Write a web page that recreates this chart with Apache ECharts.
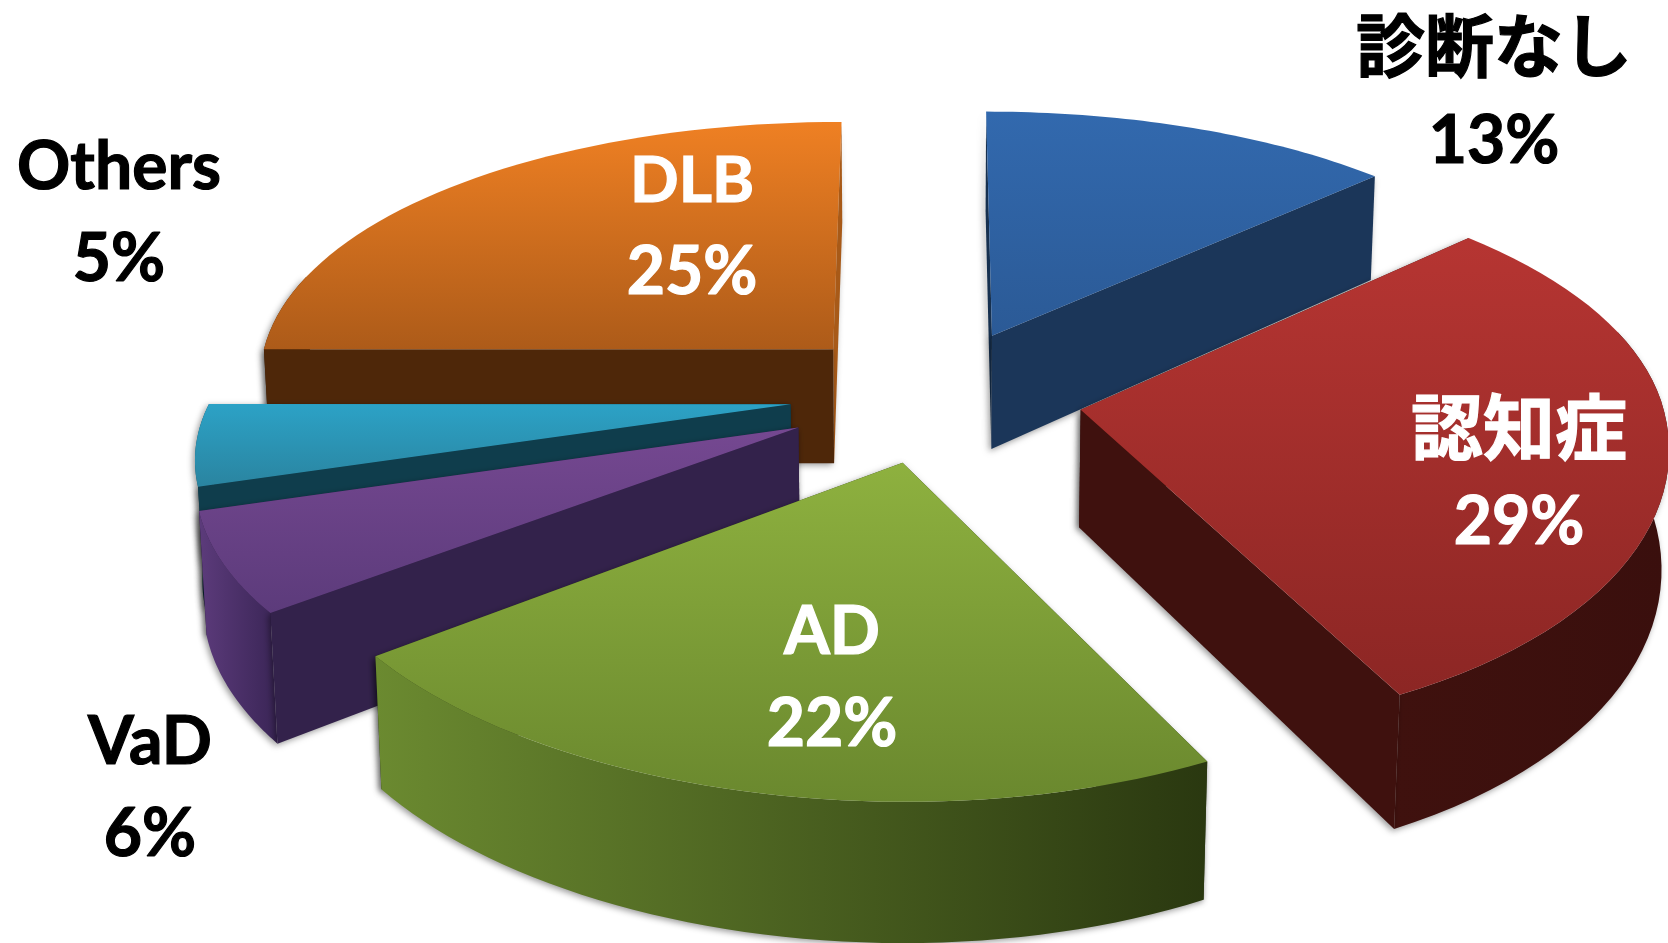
<!DOCTYPE html>
<html>
<head>
<meta charset="utf-8">
<style>
  html, body { margin: 0; padding: 0; background: #fff; }
  #chart { width: 1668px; height: 943px; }
</style>
<script src="https://cdn.jsdelivr.net/npm/echarts@6/dist/echarts.min.js"></script>
</head>
<body>
<div id="chart"></div>
<script>
// data
var categories = ['診断なし', '認知症', 'AD', 'VaD', 'Others', 'DLB'];
var percentValues = [13, 29, 22, 6, 5, 25];

// look of each slice, same order as categories
var topColors = [
  ['#3269ae', '#2b5a96'], ['#b63532', '#8c2624'], ['#8eb13f', '#6a882e'],
  ['#754891', '#5c3b7b'], ['#2ca2c6', '#2a84a0'], ['#ef8023', '#ad5b19']
];
var wallColors = ['#1b3659', '#3f110e', '#33421a', '#33224b', '#0f3d4c', '#4e2709'];
var curveColors = [
  ['#1b3659', '#1b3659'], ['#3f110e', '#3a0f0d'], ['#6b8a30', '#2a3810'],
  ['#5c3b7b', '#3a2556'], ['#15536a', '#0f3d4c'], ['#4e2709', '#4e2709']
];
var backColors = ['#16304f', '#3f110e', '#33421a', '#33224b', '#0f3d4c', '#a85a18'];
// how far each slice is pulled out of the pie, in radii
var offsetU = [0.1165, 0.267, -0.029, -0.212, -0.232, -0.163];
var offsetV = [0.24, -0.039, -0.227, -0.104, -0.0195, 0.188];
var paintOrder = [2, 5, 6, 4, 3, 1];
var labelColors = ['#000', '#fff', '#fff', '#000', '#000', '#fff'];
var labelNameSizes = [69, 72, 66, 66, 66, 64];
var labelX = [1494, 1519, 832, 150, 119, 692];
var labelY = [96, 477, 679, 789, 214, 227];

// projection of the pie plane, the near half is bent a little to fit the picture
var CX = 926, CY = 399, RX = 580, RY = 272, DEPTH = 117;
var PERSP = 0.14, PERSP_X_FAR = 0.1, SHRINK = 0.01, SHEAR = 26.6, WARP = -15;

function project(u, v, h) {
  var wy = 1 + PERSP * v;
  var wx = 1 + (v > 0 ? PERSP_X_FAR : PERSP) * v + SHRINK * h;
  var near = Math.min(v, 0);
  return [CX + RX * u / wx + SHEAR * near, CY - RY * v / wy + DEPTH * h / wy + WARP * u * near];
}

function vGrad(stops) {
  return { type: 'linear', x: 0, y: 0, x2: 0, y2: 1, colorStops: [{ offset: 0, color: stops[0] }, { offset: 1, color: stops[1] }] };
}
function hGrad(stops) {
  return { type: 'linear', x: 0, y: 0, x2: 1, y2: 0, colorStops: [{ offset: 0, color: stops[0] }, { offset: 1, color: stops[1] }] };
}

var total = percentValues.reduce(function (a, b) { return a + b; }, 0);
var starts = [];
percentValues.reduce(function (acc, v, i) { starts[i] = acc; return acc + v; }, 0);

function poly(points, fill, z2, shadow) {
  var style = { fill: fill };
  if (shadow) {
    style.shadowColor = 'rgba(0,0,0,0.4)';
    style.shadowBlur = 6;
    style.shadowOffsetX = -2;
    style.shadowOffsetY = 2;
  }
  return { type: 'polygon', shape: { points: points }, style: style, z2: z2, silent: true };
}

function renderSlice(params, api) {
  var i = params.dataIndex;
  var a0 = starts[i] / total * Math.PI * 2;
  var a1 = a0 + api.value(0) / total * Math.PI * 2;
  var ou = offsetU[i];
  var ov = offsetV[i];
  var base = paintOrder[i] * 10;

  var steps = 48, arcTop = [], curveTop = [], curveBottom = [];
  for (var s = 0; s <= steps; s++) {
    var a = a0 + (a1 - a0) * s / steps;
    var u = ou + Math.sin(a), v = ov + Math.cos(a);
    arcTop.push(project(u, v, 0));
    // the outer wall only shows on the front of the pie
    if (Math.cos(a) < 0.3) {
      curveTop.push(project(u, v, 0));
      curveBottom.push(project(u, v, 1));
    }
  }
  function wall(angle) {
    var su = ou + Math.sin(angle), sv = ov + Math.cos(angle);
    return [project(ou, ov, 0), project(su, sv, 0), project(su, sv, 1), project(ou, ov, 1)];
  }

  // a radial wall faces the viewer when its normal points to the front
  var startFront = Math.cos(a0 - Math.PI / 2) < -0.01;
  var endFront = Math.cos(a1 + Math.PI / 2) < -0.01;

  var children = [];
  children.push(poly(wall(a0), startFront ? wallColors[i] : backColors[i], base + (startFront ? 2 : 0), true));
  children.push(poly(wall(a1), endFront ? wallColors[i] : backColors[i], base + (endFront ? 2 : 0), true));
  if (curveTop.length > 1) {
    children.push(poly(curveTop.concat(curveBottom.reverse()), hGrad(curveColors[i]), base + 1, true));
  }
  children.push(poly([project(ou, ov, 0)].concat(arcTop), vGrad(topColors[i]), base + 3, false));
  children.push({
    type: 'text',
    x: labelX[i],
    y: labelY[i],
    z2: 1000,
    silent: true,
    style: {
      text: '{n|' + categories[i] + '}\n{p|' + api.value(0) + '%}',
      fill: labelColors[i],
      align: 'center',
      verticalAlign: 'middle',
      rich: {
        n: {
          fill: labelColors[i],
          stroke: labelColors[i],
          lineWidth: 1.2,
          fontWeight: 'bold',
          fontFamily: 'Lato, "Noto Sans CJK JP", sans-serif',
          fontSize: labelNameSizes[i],
          lineHeight: 92,
          align: 'center'
        },
        p: {
          fill: labelColors[i],
          stroke: labelColors[i],
          lineWidth: 1.2,
          fontWeight: 'bold',
          fontFamily: 'Lato, sans-serif',
          fontSize: 66,
          lineHeight: 92,
          align: 'center'
        }
      }
    }
  });
  return { type: 'group', children: children };
}

var chart = echarts.init(document.getElementById('chart'));
chart.setOption({
  animation: false,
  backgroundColor: '#fff',
  series: [{
    type: 'custom',
    coordinateSystem: 'none',
    renderItem: renderSlice,
    clip: false,
    data: percentValues.map(function (v, i) { return { name: categories[i], value: [v] }; })
  }]
});
</script>
</body>
</html>
